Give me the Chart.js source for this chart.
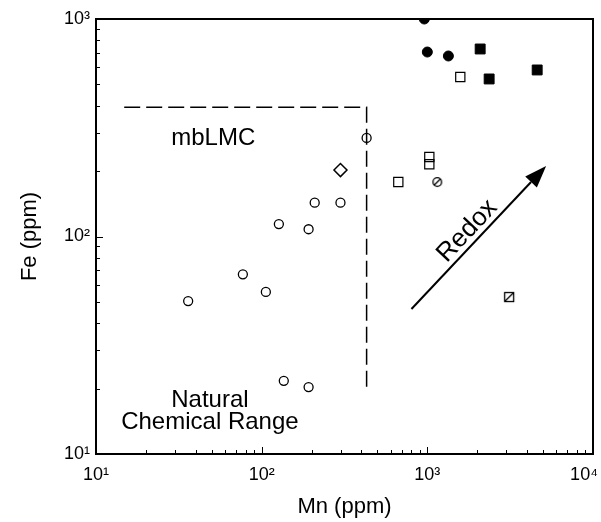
<!DOCTYPE html>
<html>
<head>
<meta charset="utf-8">
<script src="https://cdn.jsdelivr.net/npm/chart.js@4.4.1/dist/chart.umd.min.js"></script>
<style>
  html, body { margin: 0; padding: 0; background: #fff; }
  #wrap { width: 601px; height: 522px; }
</style>
</head>
<body>
<div id="wrap"><canvas id="myChart" width="601" height="522"></canvas></div>
<script>
'use strict';
// all values in ppm, x = Mn, y = Fe
const xTickValues = [10, 100, 1000, 10000];
const xTickLabels = ['10¹', '10²', '10³', '10⁴\u2003'];
const yTickValues = [10, 100, 1000];
const yTickLabels = ['10¹', '10²', '10³'];

const openCircleMn = [36, 77, 106, 127, 192, 209, 299, 136, 192];
const openCircleFe = [50.5, 67, 55.6, 114, 108, 143, 143, 21.7, 20.3];
const barCircleMn = [430];
const barCircleFe = [284];
const diamondMn = [299];
const diamondFe = [202];
const openSquareMn = [668, 1028, 1028, 1581];
const openSquareFe = [178, 232, 215, 541];
const slashCircleMn = [1148];
const slashCircleFe = [178];
const slashSquareMn = [3119];
const slashSquareFe = [52.7];
const filledCircleMn = [959, 1000, 1340];
const filledCircleFe = [1000, 705, 676];
const filledSquareMn = [2084, 2361, 4603];
const filledSquareFe = [728, 530, 583];

// dashed limit box (mbLMC)
const boxMn = [14.8, 430, 430];
const boxFe = [393, 393, 19.3];

// redox arrow, tail then tip
const arrowMn = [802, 5213];
const arrowFe = [46.4, 211];

const noteText = ['mbLMC', 'Natural', 'Chemical Range'];
const noteMn = [51, 48.7, 48.7];
const noteFe = [284, 17.7, 14.0];
const redoxText = 'Redox';
const redoxMn = 1742;
const redoxFe = 106;

const FONT = "'Liberation Sans', Arial, Helvetica, sans-serif";

function pts(xs, ys) {
  return xs.map((x, i) => ({x: x, y: ys[i]}));
}

function markerCanvas(size, draw) {
  const c = document.createElement('canvas');
  c.width = size;
  c.height = size;
  const g = c.getContext('2d');
  g.strokeStyle = '#000';
  g.fillStyle = '#fff';
  g.lineWidth = 1.3;
  draw(g, size / 2);
  return c;
}
const slashCircleImg = markerCanvas(14, (g, m) => {
  g.beginPath();
  g.arc(m, m, 4.3, 0, Math.PI * 2);
  g.fill();
  g.stroke();
  g.beginPath();
  g.moveTo(m - 3, m + 3);
  g.lineTo(m + 3, m - 3);
  g.stroke();
});
const slashSquareImg = markerCanvas(14, (g, m) => {
  g.fillRect(m - 4.5, m - 4.5, 9, 9);
  g.strokeRect(m - 4.5, m - 4.5, 9, 9);
  g.beginPath();
  g.moveTo(m - 4.5, m + 4.5);
  g.lineTo(m + 4.5, m - 4.5);
  g.stroke();
});

const frameAndNotes = {
  id: 'frameAndNotes',
  afterDatasetsDraw(chart) {
    const ctx = chart.ctx;
    const xs = chart.scales.x;
    const ys = chart.scales.y;
    const a = chart.chartArea;
    ctx.save();
    ctx.strokeStyle = '#000';
    ctx.fillStyle = '#000';

    // inward ticks on bottom and left
    ctx.lineWidth = 1;
    ctx.beginPath();
    for (let d = 10; d < 10000; d *= 10) {
      for (let m = 1; m <= 9; m++) {
        const px = Math.round(xs.getPixelForValue(d * m)) + 0.5;
        const len = m === 1 ? 7 : 4;
        ctx.moveTo(px, a.bottom);
        ctx.lineTo(px, a.bottom - len);
      }
    }
    for (let d = 10; d < 1000; d *= 10) {
      for (let m = 1; m <= 9; m++) {
        const py = Math.round(ys.getPixelForValue(d * m)) + 0.5;
        const len = m === 1 ? 7 : 4;
        ctx.moveTo(a.left, py);
        ctx.lineTo(a.left + len, py);
      }
    }
    ctx.stroke();

    // frame
    ctx.lineWidth = 2;
    ctx.strokeRect(a.left, a.top, a.right - a.left, a.bottom - a.top);

    // arrow
    const x0 = xs.getPixelForValue(arrowMn[0]);
    const y0 = ys.getPixelForValue(arrowFe[0]);
    const x1 = xs.getPixelForValue(arrowMn[1]);
    const y1 = ys.getPixelForValue(arrowFe[1]);
    const ang = Math.atan2(y1 - y0, x1 - x0);
    const head = 22;
    const half = 8;
    const bx = x1 - head * Math.cos(ang);
    const by = y1 - head * Math.sin(ang);
    ctx.lineWidth = 2;
    ctx.beginPath();
    ctx.moveTo(x0, y0);
    ctx.lineTo(bx, by);
    ctx.stroke();
    ctx.beginPath();
    ctx.moveTo(x1, y1);
    ctx.lineTo(bx + half * Math.sin(ang), by - half * Math.cos(ang));
    ctx.lineTo(bx - half * Math.sin(ang), by + half * Math.cos(ang));
    ctx.closePath();
    ctx.fill();

    // text notes
    ctx.font = '24px ' + FONT;
    ctx.textAlign = 'center';
    ctx.textBaseline = 'middle';
    for (let i = 0; i < noteText.length; i++) {
      ctx.fillText(noteText[i], xs.getPixelForValue(noteMn[i]), ys.getPixelForValue(noteFe[i]));
    }
    ctx.translate(xs.getPixelForValue(redoxMn), ys.getPixelForValue(redoxFe));
    ctx.rotate(ang);
    ctx.font = '26px ' + FONT;
    ctx.fillText(redoxText, 0, 0);
    ctx.restore();
  }
};

const ctx = document.getElementById('myChart').getContext('2d');
const chart = new Chart(ctx, {
  type: 'scatter',
  data: {
    datasets: [
      {
        label: 'limit',
        data: pts(boxMn, boxFe),
        showLine: true,
        borderColor: '#000',
        borderWidth: 1.5,
        borderDash: [16, 6],
        pointRadius: 0,
        fill: false
      },
      {
        label: 'open circles',
        data: pts(openCircleMn, openCircleFe),
        pointStyle: 'circle',
        pointRadius: 4.5,
        borderColor: '#000',
        borderWidth: 1.3,
        backgroundColor: '#fff'
      },
      {
        label: 'barred circle',
        data: pts(barCircleMn, barCircleFe),
        pointStyle: 'circle',
        pointRadius: 4.5,
        borderColor: '#000',
        borderWidth: 1.3,
        backgroundColor: 'rgba(0,0,0,0)'
      },
      {
        label: 'diamond',
        data: pts(diamondMn, diamondFe),
        pointStyle: 'rectRot',
        pointRadius: 6.5,
        borderColor: '#000',
        borderWidth: 1.5,
        backgroundColor: '#fff'
      },
      {
        label: 'open squares',
        data: pts(openSquareMn, openSquareFe),
        pointStyle: 'rect',
        pointRadius: 6.5,
        borderColor: '#000',
        borderWidth: 1.2,
        backgroundColor: 'rgba(0,0,0,0)'
      },
      {
        label: 'slashed circle',
        data: pts(slashCircleMn, slashCircleFe),
        pointStyle: slashCircleImg
      },
      {
        label: 'slashed square',
        data: pts(slashSquareMn, slashSquareFe),
        pointStyle: slashSquareImg
      },
      {
        label: 'filled circles',
        data: pts(filledCircleMn, filledCircleFe),
        pointStyle: 'circle',
        pointRadius: 5,
        borderColor: '#000',
        borderWidth: 1,
        backgroundColor: '#000',
        clip: 0
      },
      {
        label: 'filled squares',
        data: pts(filledSquareMn, filledSquareFe),
        pointStyle: 'rect',
        pointRadius: 7,
        borderColor: '#000',
        borderWidth: 1,
        backgroundColor: '#000'
      }
    ]
  },
  options: {
    responsive: false,
    animation: false,
    events: [],
    layout: { padding: { top: 19, right: 7, left: 0, bottom: 0 } },
    plugins: {
      legend: { display: false },
      tooltip: { enabled: false }
    },
    scales: {
      x: {
        type: 'logarithmic',
        min: 10,
        max: 10000,
        grid: { display: false, drawTicks: false },
        border: { display: false },
        afterBuildTicks: (scale) => {
          scale.ticks = xTickValues.map(v => ({value: v}));
        },
        afterFit: (scale) => {
          scale.height = 68;
          scale.paddingLeft = 0;
          scale.paddingRight = 0;
        },
        ticks: {
          autoSkip: false,
          maxRotation: 0,
          padding: 10,
          color: '#000',
          font: { family: FONT, size: 18 },
          callback: (v) => xTickLabels[xTickValues.indexOf(v)]
        },
        title: {
          display: true,
          text: 'Mn (ppm)',
          color: '#000',
          font: { family: FONT, size: 22 },
          padding: { top: 0, bottom: 2 }
        }
      },
      y: {
        type: 'logarithmic',
        min: 10,
        max: 1000,
        grid: { display: false, drawTicks: false },
        border: { display: false },
        afterBuildTicks: (scale) => {
          scale.ticks = yTickValues.map(v => ({value: v}));
        },
        afterFit: (scale) => {
          scale.width = 96;
          scale.paddingTop = 0;
          scale.paddingBottom = 0;
        },
        ticks: {
          autoSkip: false,
          padding: 6,
          color: '#000',
          font: { family: FONT, size: 18 },
          callback: (v) => yTickLabels[yTickValues.indexOf(v)]
        },
        title: {
          display: true,
          text: 'Fe (ppm)',
          color: '#000',
          font: { family: FONT, size: 22 },
          padding: { top: 17, bottom: 0 }
        }
      }
    }
  },
  plugins: [frameAndNotes]
});
</script>
</body>
</html>
